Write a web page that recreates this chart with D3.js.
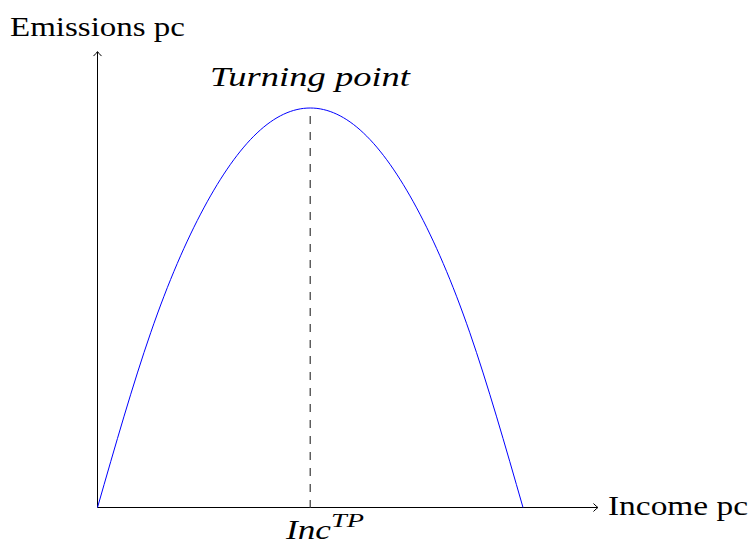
<!DOCTYPE html>
<html>
<head>
<meta charset="utf-8">
<script src="https://cdn.jsdelivr.net/npm/d3@7"></script>
<style>
  html, body { margin: 0; padding: 0; background: #fff; }
  svg text { font-family: "Liberation Serif", "DejaVu Serif", serif; fill: #000; }
</style>
</head>
<body>
<svg id="chart" width="751" height="544"></svg>
<script>
// Environmental Kuznets curve: emissions per capita against income per capita
const incomeValues = [0, 0.5, 1, 1.5, 2, 2.5, 3, 3.5, 4];
const emissionValues = [0, 1.75, 3, 3.75, 4, 3.75, 3, 1.75, 0];
const turningPoint = { income: 2, emissions: 4 };
const axisLabels = { x: "Income pc", y: "Emissions pc" };
const peakLabel = "Turning point";
const tickLabel = { base: "Inc", sup: "TP" };

const svg = d3.select("#chart");
const x = d3.scaleLinear().domain([0, 4]).range([97.5, 523]);
const y = d3.scaleLinear().domain([0, 4]).range([507.5, 108]);
const xMax = 4.7, yMax = 4.56;

// axes with open arrow heads
const ax = svg.append("g").attr("stroke", "#000").attr("fill", "none").attr("stroke-width", 1);
ax.append("line").attr("x1", x(0)).attr("y1", y(0)).attr("x2", x(xMax)).attr("y2", y(0));
ax.append("line").attr("x1", x(0)).attr("y1", y(0)).attr("x2", x(0)).attr("y2", y(yMax));
const xe = x(xMax), ye = y(yMax);
ax.append("path").attr("d", `M${xe - 4},${y(0) - 4} Q${xe - 1},${y(0) - 1} ${xe + 0.5},${y(0)} Q${xe - 1},${y(0) + 1} ${xe - 4},${y(0) + 4}`);
ax.append("path").attr("d", `M${x(0) - 4},${ye + 4} Q${x(0) - 1},${ye + 1} ${x(0)},${ye - 0.5} Q${x(0) + 1},${ye + 1} ${x(0) + 4},${ye + 4}`);

// dashed line from the turning point down to the income axis
svg.append("line")
  .attr("x1", x(turningPoint.income)).attr("x2", x(turningPoint.income))
  .attr("y1", y(turningPoint.emissions) + 8).attr("y2", y(0))
  .attr("stroke", "#555").attr("stroke-width", 1.4)
  .attr("stroke-dasharray", "8,8");

// the curve
const pts = incomeValues.map((v, i) => [v, emissionValues[i]]);
svg.append("path")
  .datum(pts)
  .attr("fill", "none")
  .attr("stroke", "#0000ff")
  .attr("stroke-width", 1)
  .attr("d", d3.line().x(d => x(d[0])).y(d => y(d[1])).curve(d3.curveNatural));

// labels, widened to the spacing of the typeset original
svg.append("text").attr("x", 10).attr("y", 36).attr("text-anchor", "start")
  .attr("font-size", 28).attr("textLength", 175).attr("lengthAdjust", "spacingAndGlyphs")
  .text(axisLabels.y);
svg.append("text").attr("x", 608).attr("y", 515).attr("text-anchor", "start")
  .attr("font-size", 28).attr("textLength", 140).attr("lengthAdjust", "spacingAndGlyphs")
  .text(axisLabels.x);
svg.append("text").attr("x", 210).attr("y", 86).attr("text-anchor", "start")
  .attr("font-size", 28).attr("font-style", "italic")
  .attr("textLength", 200).attr("lengthAdjust", "spacingAndGlyphs").text(peakLabel);
const tl = svg.append("text").attr("x", 286).attr("y", 539)
  .attr("text-anchor", "start").attr("font-size", 28).attr("font-style", "italic");
tl.append("tspan").attr("textLength", 45).attr("lengthAdjust", "spacingAndGlyphs").text(tickLabel.base);
tl.append("tspan").attr("dy", -12).attr("font-size", 19)
  .attr("textLength", 33).attr("lengthAdjust", "spacingAndGlyphs").text(tickLabel.sup);
</script>
</body>
</html>
